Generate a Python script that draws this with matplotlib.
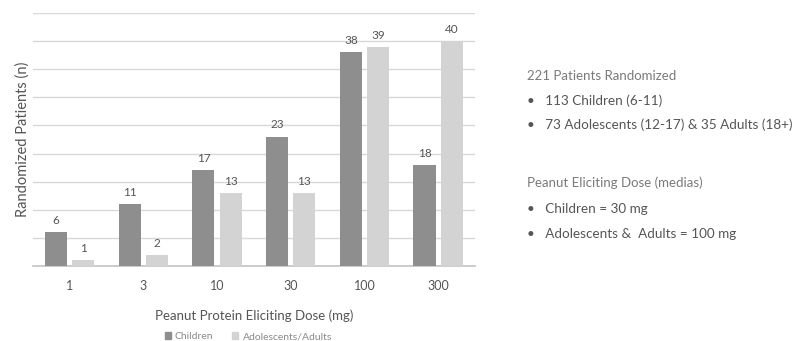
import matplotlib

matplotlib.use("Agg")
import matplotlib.pyplot as plt
import numpy as np
from matplotlib.patches import Patch

plt.rcParams["font.family"] = ["Lato", "DejaVu Sans"]

# Eliciting dose categories and patient counts per group
DOSES = ["1", "3", "10", "30", "100", "300"]
CHILDREN = [6, 11, 17, 23, 38, 18]
ADOLESCENTS_ADULTS = [1, 2, 13, 13, 39, 40]

SUMMARY_TITLE = "221 Patients Randomized"
SUMMARY_ITEMS = ["113 Children (6-11)", "73 Adolescents (12-17) & 35 Adults (18+)"]
MEDIAN_TITLE = "Peanut Eliciting Dose (medias)"
MEDIAN_ITEMS = ["Children = 30 mg", "Adolescents &  Adults = 100 mg"]

DARK = "#8e8e8e"
LIGHT = "#d3d3d3"
TEXT = "#7a7a7a"
DARK_TEXT = "#555555"

fig = plt.figure(figsize=(8.01, 3.41), dpi=100)
ax = fig.add_axes([0.041, 0.22, 0.552, 0.742])

x = np.arange(len(DOSES))
w = 0.30
gap = 0.035
b1 = ax.bar(x - w / 2 - gap, CHILDREN, w, color=DARK, zorder=3, label="Children")
b2 = ax.bar(x + w / 2 + gap, ADOLESCENTS_ADULTS, w, color=LIGHT, zorder=3,
            label="Adolescents/Adults")

for bars, vals in ((b1, CHILDREN), (b2, ADOLESCENTS_ADULTS)):
    for rect, v in zip(bars, vals):
        ax.text(rect.get_x() + rect.get_width() / 2, v + 1.1, str(v),
                ha="center", va="bottom", fontsize=8.5, color=DARK_TEXT)

ax.set_xlim(-0.5, len(DOSES) - 0.5)
ax.set_ylim(0, 45)
ax.set_yticks(np.arange(0, 46, 5))
ax.yaxis.grid(True, color="#d8d8d8", linewidth=1, zorder=0)
ax.tick_params(axis="y", left=False, labelleft=False)
ax.tick_params(axis="x", length=0, pad=10, labelsize=9, labelcolor=DARK_TEXT)
ax.set_xticks(x)
ax.set_xticklabels(DOSES)
for side in ("top", "right", "left"):
    ax.spines[side].set_visible(False)
ax.spines["bottom"].set_color("#c4c4c4")
ax.spines["bottom"].set_linewidth(1.2)

ax.set_xlabel("Peanut Protein Eliciting Dose (mg)", fontsize=9.5,
              color=DARK_TEXT, labelpad=13)
ax.set_ylabel("Randomized Patients (n)", fontsize=10.5, color=DARK_TEXT,
              labelpad=2)

handles = [Patch(color=DARK), Patch(color=LIGHT)]
fig.legend(handles, ["Children", "Adolescents/Adults"], loc="center",
           bbox_to_anchor=(0.31, 0.012), ncol=2, frameon=False, fontsize=7.5,
           handlelength=0.6, handleheight=0.6, columnspacing=1.8,
           handletextpad=0.4, labelcolor="#8a8a8a")

# summary notes on the right
tx = 527 / 801
fig.text(tx, 1 - 76 / 341, SUMMARY_TITLE, fontsize=9.5, color=TEXT, va="center")
for i, item in enumerate(SUMMARY_ITEMS):
    fig.text(tx, 1 - (101 + 24 * i) / 341, "•   " + item, fontsize=9.7,
             color=DARK_TEXT, va="center")
fig.text(tx, 1 - 183 / 341, MEDIAN_TITLE, fontsize=9.5, color=TEXT, va="center")
for i, item in enumerate(MEDIAN_ITEMS):
    fig.text(tx, 1 - (209 + 25 * i) / 341, "•   " + item, fontsize=9.7,
             color=DARK_TEXT, va="center")

fig.savefig("out.png", dpi=100, facecolor="white")
